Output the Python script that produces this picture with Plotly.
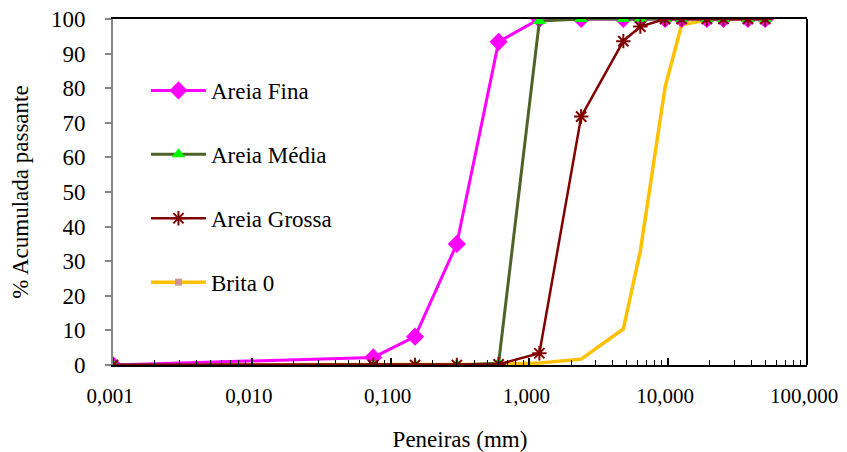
import plotly.graph_objects as go

# Sieve openings (mm)
peneiras = [0.001, 0.075, 0.15, 0.3, 0.6, 1.18, 2.36, 4.75, 6.3, 9.5, 12.5, 19, 25, 37.5, 50]

areia_fina = [0, 2.2, 8.2, 35, 93.4, 100, 100, 100, 100, 100, 100, 100, 100, 100, 100]
areia_media = [0, 0, 0, 0, 0.5, 99.4, 100, 100, 100, 100, 100, 100, 100, 100, 100]
areia_grossa = [0, 0, 0, 0, 0.2, 3.4, 71.8, 93.6, 97.8, 100, 100, 100, 100, 100, 100]
brita_0 = [0, 0, 0, 0, 0.2, 0.6, 1.7, 10.4, 33, 80.3, 98.3, 99.7, 100, 100, 100]

x_tickvals = [0.001, 0.01, 0.1, 1, 10, 100]
x_ticktext = ["0,001", "0,010", "0,100", "1,000", "10,000", "100,000"]
y_tickvals = [0, 10, 20, 30, 40, 50, 60, 70, 80, 90, 100]

minor_vals = [m * 10 ** e for e in range(-3, 2) for m in range(2, 10)]

FONT = "Liberation Serif, Times New Roman, serif"
FS = 23

fig = go.Figure()

# Brita 0 line drawn first (underneath other series' markers)
fig.add_trace(go.Scatter(
    x=peneiras, y=brita_0, mode="lines", name="Brita 0",
    line=dict(color="#FFC000", width=3.5), showlegend=False, legendgroup="g4"))

fig.add_trace(go.Scatter(
    x=peneiras, y=areia_fina, mode="lines+markers", name="Areia Fina",
    line=dict(color="#FF00FF", width=3),
    marker=dict(symbol="diamond", size=14, color="#FF00FF"), legendgroup="g1"))

fig.add_trace(go.Scatter(
    x=peneiras, y=areia_media, mode="lines+markers", name="Areia Média",
    line=dict(color="#4F6228", width=3),
    marker=dict(symbol="triangle-up", size=12, color="#00FF00"), legendgroup="g2"))

fig.add_trace(go.Scatter(
    x=peneiras, y=areia_grossa, mode="lines+markers", name="Areia Grossa",
    line=dict(color="#800000", width=2.5),
    marker=dict(symbol="asterisk-open", size=12, color="#800000",
                line=dict(color="#800000", width=2)), legendgroup="g3"))

# legend entry for Brita 0
fig.add_trace(go.Scatter(
    x=[None], y=[None], mode="lines+markers", name="Brita 0",
    line=dict(color="#FFC000", width=3.5),
    marker=dict(symbol="square", size=7, color="#D09494"), legendgroup="g4"))

fig.update_layout(
    width=839, height=444,
    margin=dict(l=105, r=40, t=11, b=87, autoexpand=False),
    paper_bgcolor="white", plot_bgcolor="white",
    font=dict(family=FONT, size=FS, color="black"),
    showlegend=True,
    legend=dict(x=0.0475, y=0.8555, xanchor="left", yanchor="top",
                bgcolor="rgba(255,255,255,0)", font=dict(family=FONT, size=FS),
                tracegroupgap=31, traceorder="grouped", itemwidth=55),
    xaxis=dict(
        type="log", range=[-3, 2], tickvals=x_tickvals, ticktext=x_ticktext,
        ticks="inside", ticklen=7, tickcolor="black", tickwidth=1.5,
        showline=True, linecolor="black", linewidth=2, mirror=True,
        showgrid=False, zeroline=False, ticklabelstandoff=11, automargin=False,
        ticklabeloverflow="allow", ticklabelshift=-3,
        minor=dict(tickvals=minor_vals, ticks="inside", ticklen=5,
                   tickcolor="black", tickwidth=1, showgrid=False),
        title=dict(text="Peneiras (mm)", font=dict(family=FONT, size=FS), standoff=27),
        tickfont=dict(family=FONT, size=21),
    ),
    yaxis=dict(
        range=[0, 100], tickvals=y_tickvals,
        ticks="outside", ticklen=6, tickcolor="#868686", tickwidth=1.5,
        showline=True, linecolor="#868686", linewidth=2,
        showgrid=False, zeroline=False, ticklabelstandoff=15, automargin=False,
        ticklabeloverflow="allow",
        title=dict(text="% Acumulada passante", font=dict(family=FONT, size=FS), standoff=31),
        tickfont=dict(family=FONT, size=FS),
    ),
    shapes=[dict(type="line", xref="x domain", yref="y domain",
                 x0=1, x1=1, y0=0, y1=1, line=dict(color="black", width=2))],
)

fig.write_html("out.html")
